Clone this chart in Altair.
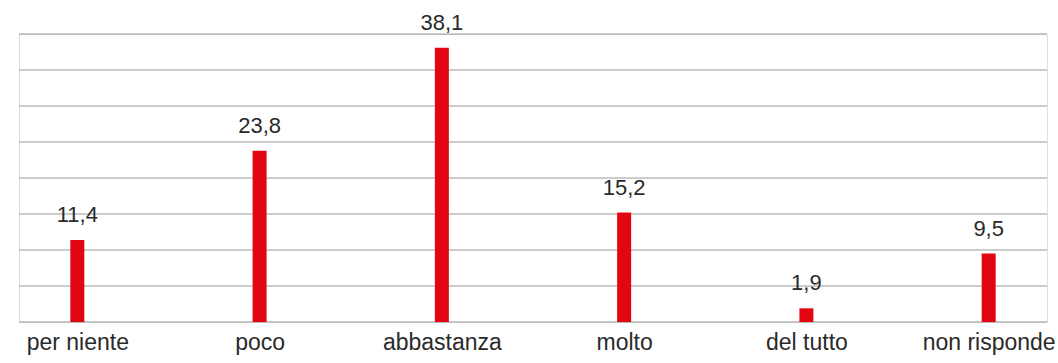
import altair as alt
import pandas as pd

# Survey answers and their percentages
categories = ["per niente", "poco", "abbastanza", "molto", "del tutto", "non risponde"]
values = [11.4, 23.8, 38.1, 15.2, 1.9, 9.5]
labels = ["11,4", "23,8", "38,1", "15,2", "1,9", "9,5"]
grid_values = [0, 5, 10, 15, 20, 25, 30, 35, 40]

df = pd.DataFrame({"risposta": categories, "valore": values, "etichetta": labels})
grid_df = pd.DataFrame({"livello": grid_values})

FONT = "Liberation Sans"
RED = "#e20613"
TEXT = "#2a2a2a"

y_scale = alt.Scale(domain=[0, 40], nice=False)

x = alt.X(
    "risposta:N",
    sort=categories,
    scale=alt.Scale(type="point", padding=0.32),
    axis=alt.Axis(
        title=None,
        labelAngle=0,
        labelFont=FONT,
        labelFontSize=23,
        labelColor=TEXT,
        labelPadding=9,
        ticks=False,
        domain=False,
        grid=False,
    ),
)
y = alt.Y("valore:Q", scale=y_scale, axis=None)

# horizontal guide lines every 5 points
grid = alt.Chart(grid_df).mark_rule(color="#9a9a9a", strokeWidth=1).encode(
    y=alt.Y("livello:Q", scale=y_scale, axis=None)
)

bars = alt.Chart(df).mark_bar(size=14, color=RED).encode(x=x, y=y)

text = alt.Chart(df).mark_text(
    font=FONT, fontSize=22, color=TEXT, baseline="alphabetic", dy=-18
).encode(x=x, y=y, text="etichetta:N")

chart = (
    alt.layer(grid, bars, text)
    .properties(
        width=1028,
        height=288,
        autosize=alt.AutoSizeParams(type="none"),
        padding={"left": 19, "top": 34, "right": 11, "bottom": 41},
    )
    .configure_view(stroke=None)
    .configure(background="white")
)

chart.save("out.html", embed_options={"renderer": "svg", "actions": False})
